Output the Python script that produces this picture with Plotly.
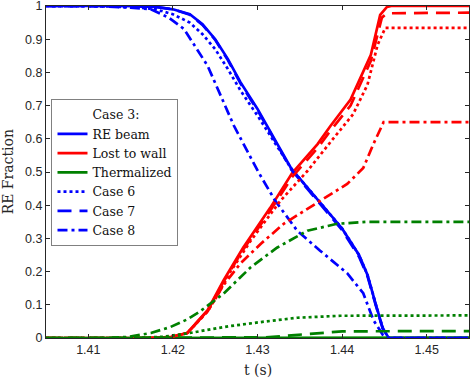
import plotly.graph_objects as go

# time axis limits and ticks
x_ticks = [1.41, 1.42, 1.43, 1.44, 1.45]
y_ticks = [0, 0.1, 0.2, 0.3, 0.4, 0.5, 0.6, 0.7, 0.8, 0.9, 1]

# Case 3 (solid)
t_beam3 = [1.405, 1.414, 1.418, 1.420, 1.422, 1.4235, 1.425, 1.4265, 1.428, 1.430, 1.432, 1.434,
           1.436, 1.438, 1.440, 1.442, 1.443, 1.444, 1.4448, 1.4455, 1.455]
y_beam3 = [1, 1, 0.997, 0.99, 0.975, 0.945, 0.9, 0.84, 0.77, 0.69, 0.60, 0.51,
           0.45, 0.39, 0.33, 0.25, 0.19, 0.10, 0.03, 0.0, 0.0]
t_wall3 = [1.405, 1.417, 1.4197, 1.4217, 1.4241, 1.426, 1.4283, 1.4315, 1.4341, 1.4371, 1.4386,
           1.441, 1.4434, 1.4445, 1.4453, 1.4458, 1.455]
y_wall3 = [0, 0, 0.003, 0.015, 0.084, 0.174, 0.272, 0.392, 0.497, 0.584, 0.638,
           0.718, 0.853, 0.973, 0.997, 1.0, 1.0]
t_therm3 = [1.405, 1.42, 1.44, 1.455]
y_therm3 = [0, 0, 0.001, 0.001]

# Case 6 (dotted)
t_beam6 = [1.405, 1.412, 1.416, 1.418, 1.420, 1.422, 1.4235, 1.425, 1.4265, 1.428, 1.430, 1.432, 1.434,
           1.436, 1.438, 1.440, 1.442, 1.443, 1.444, 1.4448, 1.4455, 1.455]
y_beam6 = [1, 0.999, 0.995, 0.99, 0.975, 0.95, 0.915, 0.87, 0.81, 0.745, 0.67, 0.59, 0.51,
           0.45, 0.39, 0.33, 0.25, 0.19, 0.10, 0.03, 0.0, 0.0]
t_wall6 = [1.405, 1.417, 1.4197, 1.4217, 1.4241, 1.4253, 1.4268, 1.4292, 1.4327, 1.4359, 1.439,
           1.4413, 1.443, 1.4442, 1.4451, 1.455]
y_wall6 = [0, 0, 0.003, 0.015, 0.08, 0.13, 0.20, 0.293, 0.413, 0.503, 0.602,
           0.674, 0.763, 0.883, 0.934, 0.934]
t_therm6 = [1.405, 1.416, 1.419, 1.422, 1.4253, 1.4268, 1.4304, 1.4347, 1.4398, 1.455]
y_therm6 = [0, 0, 0.004, 0.015, 0.03, 0.036, 0.048, 0.061, 0.067, 0.068]

# Case 7 (dashed)
t_beam7 = [1.405, 1.414, 1.418, 1.420, 1.422, 1.4235, 1.425, 1.4265, 1.428, 1.430, 1.432, 1.434,
           1.436, 1.438, 1.440, 1.442, 1.443, 1.444, 1.4448, 1.4455, 1.455]
y_beam7 = [1, 1, 0.997, 0.99, 0.974, 0.943, 0.898, 0.837, 0.766, 0.686, 0.597, 0.507,
           0.446, 0.386, 0.325, 0.245, 0.186, 0.097, 0.028, 0.0, 0.0]
t_wall7 = [1.405, 1.417, 1.4197, 1.4217, 1.4241, 1.426, 1.4283, 1.4315, 1.4341, 1.4371, 1.4386,
           1.441, 1.4434, 1.4447, 1.4453, 1.455]
y_wall7 = [0, 0, 0.003, 0.015, 0.082, 0.17, 0.266, 0.383, 0.485, 0.572, 0.624,
           0.70, 0.835, 0.965, 0.978, 0.98]
t_therm7 = [1.405, 1.428, 1.431, 1.434, 1.437, 1.440, 1.455]
y_therm7 = [0, 0, 0.002, 0.008, 0.015, 0.02, 0.021]

# Case 8 (dash-dot)
t_beam8 = [1.405, 1.412, 1.415, 1.4174, 1.4195, 1.4213, 1.4241, 1.4272, 1.4301, 1.4321, 1.4347,
           1.4374, 1.4406, 1.4425, 1.4437, 1.4448, 1.4455, 1.455]
y_beam8 = [1, 0.999, 0.995, 0.99, 0.965, 0.931, 0.82, 0.64, 0.5, 0.413, 0.323,
           0.263, 0.195, 0.135, 0.054, 0.01, 0.0, 0.0]
t_wall8 = [1.405, 1.417, 1.4197, 1.4217, 1.4241, 1.426, 1.428, 1.4304, 1.4331, 1.4362, 1.4374,
           1.4406, 1.4425, 1.4437, 1.4449, 1.455]
y_wall8 = [0, 0, 0.003, 0.015, 0.08, 0.16, 0.225, 0.284, 0.344, 0.395, 0.413,
           0.464, 0.512, 0.584, 0.65, 0.65]
t_therm8 = [1.405, 1.412, 1.4146, 1.4174, 1.4197, 1.4217, 1.4232, 1.426, 1.4292, 1.4323, 1.4359,
            1.4394, 1.443, 1.455]
y_therm8 = [0, 0, 0.003, 0.015, 0.033, 0.056, 0.08, 0.134, 0.213, 0.272, 0.323,
            0.344, 0.35, 0.35]

BLUE = '#0000FF'
RED = '#FF0000'
GREEN = '#008000'
LW = 2.7
DOT = '3px,3px'
DASH = '14px,8px'
DASHDOT = '10px,4px,3px,4px'
TXT = '#262626'

fig = go.Figure()

def add_line(t, y, color, dash, name=None, legend=False):
    fig.add_trace(go.Scatter(x=t, y=y, mode='lines', name=name, showlegend=legend,
                             line=dict(color=color, width=LW, dash=dash)))

# legend header entry
fig.add_trace(go.Scatter(x=[None], y=[None], mode='lines', name='Case 3:',
                         line=dict(color='rgba(0,0,0,0)', width=LW)))

add_line(t_beam3, y_beam3, BLUE, 'solid', 'RE beam', True)
add_line(t_wall3, y_wall3, RED, 'solid', 'Lost to wall', True)
add_line(t_therm3, y_therm3, GREEN, 'solid', 'Thermalized', True)
add_line(t_beam6, y_beam6, BLUE, DOT, 'Case 6', True)
add_line(t_beam7, y_beam7, BLUE, DASH, 'Case 7', True)
add_line(t_beam8, y_beam8, BLUE, DASHDOT, 'Case 8', True)
add_line(t_wall6, y_wall6, RED, DOT)
add_line(t_wall7, y_wall7, RED, DASH)
add_line(t_wall8, y_wall8, RED, DASHDOT)
add_line(t_therm6, y_therm6, GREEN, DOT)
add_line(t_therm7, y_therm7, GREEN, DASH)
add_line(t_therm8, y_therm8, GREEN, DASHDOT)

axis_common = dict(showgrid=False, zeroline=False, showline=True, linecolor=TXT, linewidth=1,
                   mirror='ticks', ticks='inside', ticklen=4, tickcolor=TXT,
                   ticklabeloverflow='allow', automargin=False,
                   tickfont=dict(family='Liberation Sans, Arial', size=12.5, color=TXT))

fig.update_xaxes(range=[1.405, 1.455], tickvals=x_ticks, ticktext=[f'{v:.2f}' for v in x_ticks],
                 **axis_common)
fig.update_yaxes(range=[0, 1], tickvals=y_ticks, ticktext=[f'{v:g}' for v in y_ticks],
                 **axis_common)

# axis titles placed as annotations
fig.add_annotation(text='t (s)', xref='paper', yref='paper', x=0.5, y=-0.096,
                   xanchor='center', yanchor='middle', showarrow=False,
                   font=dict(family='DejaVu Serif', size=14, color=TXT))
fig.add_annotation(text='RE Fraction', xref='paper', yref='paper', x=-0.089, y=0.5,
                   xanchor='center', yanchor='middle', textangle=-90, showarrow=False,
                   font=dict(family='DejaVu Serif', size=14, color=TXT))

fig.update_layout(
    width=471, height=379,
    margin=dict(l=46, r=2, t=6, b=41),
    plot_bgcolor='white', paper_bgcolor='white',
    showlegend=True,
    legend=dict(x=0.013, y=0.72, xanchor='left', yanchor='top',
                bgcolor='white', bordercolor='#808080', borderwidth=1,
                font=dict(family='DejaVu Serif', size=12.5, color='#111111'),
                tracegroupgap=0),
)

# drop the default page margin so the figure sits at the window's corner
fig.write_html("out.html", config={'displayModeBar': False},
               post_script="document.body.style.margin='0';")
